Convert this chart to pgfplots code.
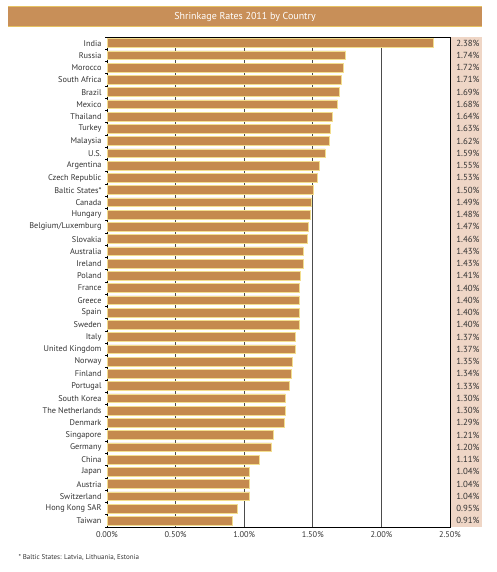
\documentclass[border=0pt]{standalone}
\usepackage{pgfplots}
\usepackage{pgfplotstable}
\pgfplotsset{compat=1.18}
\usepackage{fontspec}
\setmainfont{PT Sans}
\definecolor{barfill}{HTML}{C58A4E}
\definecolor{barline}{HTML}{F3DE8E}
\definecolor{valbg}{HTML}{EFD6C6}
\definecolor{titlebg}{HTML}{C88F58}
\definecolor{titleline}{HTML}{E6C264}
\definecolor{txt}{HTML}{333333}
\pgfplotstableread[col sep=comma]{
idx,country,value
0,India,2.38
1,Russia,1.74
2,Morocco,1.72
3,South Africa,1.71
4,Brazil,1.69
5,Mexico,1.68
6,Thailand,1.64
7,Turkey,1.63
8,Malaysia,1.62
9,U.S.,1.59
10,Argentina,1.55
11,Czech Republic,1.53
12,Baltic States*,1.50
13,Canada,1.49
14,Hungary,1.48
15,Belgium/Luxemburg,1.47
16,Slovakia,1.46
17,Australia,1.43
18,Ireland,1.43
19,Poland,1.41
20,France,1.40
21,Greece,1.40
22,Spain,1.40
23,Sweden,1.40
24,Italy,1.37
25,United Kingdom,1.37
26,Norway,1.35
27,Finland,1.34
28,Portugal,1.33
29,South Korea,1.30
30,The Netherlands,1.30
31,Denmark,1.29
32,Singapore,1.21
33,Germany,1.20
34,China,1.11
35,Japan,1.04
36,Austria,1.04
37,Switzerland,1.04
38,Hong Kong SAR,0.95
39,Taiwan,0.91
}\data
\begin{document}
\begin{tikzpicture}[x=1pt,y=1pt]
\path[use as bounding box] (0,0) rectangle (497,572);
% title bar
\fill[titlebg] (8,545) rectangle (482,565);
\draw[titleline, line width=1pt] (8,545) -- (482,545);
\draw[titleline, line width=1pt] (8,565) -- (482,565);
\node[white, font=\fontsize{10}{11}\selectfont] at (245,555) {Shrinkage Rates 2011 by Country};
% value column background
\fill[valbg] (451,45) rectangle (482,535);
\begin{axis}[
  at={(107pt,45pt)}, anchor=south west,
  scale only axis, width=343pt, height=490pt,
  xmin=0, xmax=2.5, ymin=-0.5, ymax=39.5,
  y dir=reverse,
  xtick={0,0.5,1,1.5,2,2.5},
  xticklabels={0.00\%,0.50\%,1.00\%,1.50\%,2.00\%,2.50\%},
  ytick={0,...,39},
  yticklabels from table={\data}{country},
  minor ytick={-0.5,0.5,...,39.5},
  major tick length=0pt,
  minor tick length=2pt,
  tick style={black, line width=0.6pt},
  tick pos=left,
  xmajorgrids,
  major grid style={gray!60!black, line width=0.7pt},
  axis line style={black, line width=0.8pt},
  ticklabel style={font=\fontsize{8.3}{9}\selectfont, text=txt},
  yticklabel style={xshift=-2pt},
  xticklabel style={yshift=-1pt},
  xbar, bar width=0.72,
]
\addplot[fill=barfill, draw=barline, line width=0.6pt] table[x=value, y=idx] {\data};
\end{axis}
\begin{axis}[
  at={(107pt,45pt)}, anchor=south west,
  scale only axis, width=343pt, height=490pt,
  xmin=0, xmax=2.5, ymin=-0.5, ymax=39.5,
  y dir=reverse,
  axis x line=none,
  axis y line*=right,
  y axis line style={draw=none},
  ytick={0,...,39},
  yticklabels={2.38\%,1.74\%,1.72\%,1.71\%,1.69\%,1.68\%,1.64\%,1.63\%,1.62\%,1.59\%,1.55\%,1.53\%,1.50\%,1.49\%,1.48\%,1.47\%,1.46\%,1.43\%,1.43\%,1.41\%,1.40\%,1.40\%,1.40\%,1.40\%,1.37\%,1.37\%,1.35\%,1.34\%,1.33\%,1.30\%,1.30\%,1.29\%,1.21\%,1.20\%,1.11\%,1.04\%,1.04\%,1.04\%,0.95\%,0.91\%},
  major tick length=0pt,
  yticklabel style={font=\fontsize{8.8}{9}\selectfont, text=txt, anchor=east, xshift=33pt},
]
\addplot[draw=none, forget plot] coordinates {(0,0)};
\end{axis}
\node[anchor=west, font=\fontsize{7}{8}\selectfont, text=txt] at (15,14) {* Baltic States: Latvia, Lithuania, Estonia};
\end{tikzpicture}
\end{document}
